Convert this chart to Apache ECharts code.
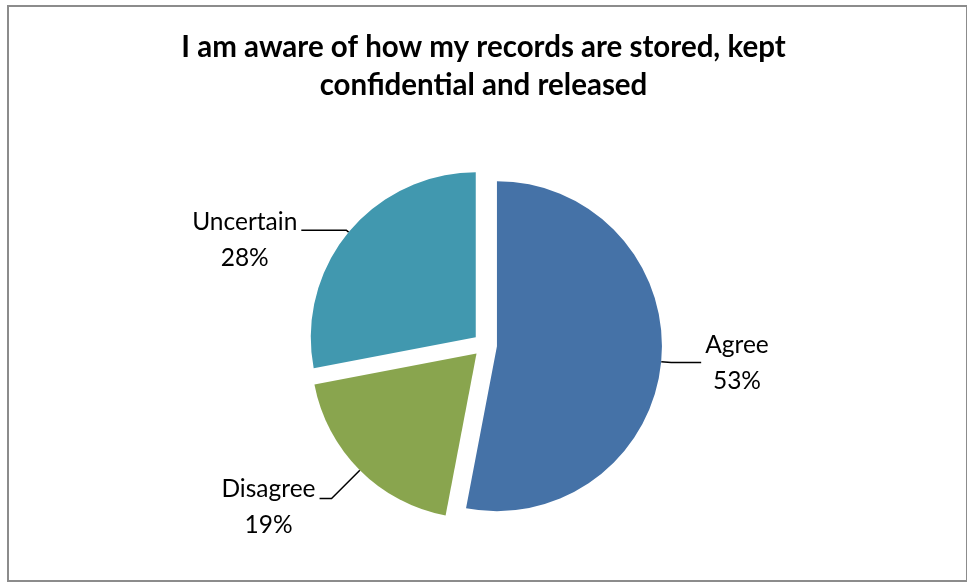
<!DOCTYPE html>
<html>
<head>
<meta charset="utf-8">
<script src="https://cdn.jsdelivr.net/npm/echarts@6/dist/echarts.min.js"></script>
<style>
html,body{margin:0;padding:0;background:#fff;}
#frame{position:absolute;left:7px;top:5px;width:957px;height:573px;border:2px solid #8c8c8c;box-sizing:content-box;}
#chart{position:absolute;left:0;top:0;width:967px;height:582px;}
</style>
</head>
<body>
<div id="frame"></div>
<div id="chart"></div>
<script>
const titleText = "I am aware of how my records are stored, kept\nconfidential and released";
const categories = ["Agree", "Disagree", "Uncertain"];
const values = [53, 19, 28];
const colors = ["#4572A7", "#89A54E", "#4198AF"];
const lineLengths = [[10, 30], [40, 12], [3, 45]];
const labelShift = [0, 18, 20];

const chart = echarts.init(document.getElementById('chart'), null, {renderer: 'canvas'});
chart.setOption({
  animation: false,
  title: {
    text: titleText,
    left: 'center',
    top: 23,
    textStyle: {fontFamily: 'Lato', fontWeight: 'bold', fontSize: 29.5, lineHeight: 38, color: '#000'}
  },
  series: [{
    type: 'pie',
    center: [485, 345],
    radius: [0, 165],
    startAngle: 90,
    clockwise: true,
    selectedMode: 'multiple',
    selectedOffset: 12,
    emphasis: {disabled: true},
    label: {
      show: true,
      position: 'outside',
      distanceToLabelLine: 4,
      formatter: p => '{t|' + p.name + '}\n{t|' + Math.round(p.percent) + '%}',
      rich: {t: {fontFamily: 'Lato', fontSize: 24.5, lineHeight: 36, color: '#000', align: 'center'}}
    },
    labelLine: {show: true, lineStyle: {color: '#000', width: 1.5}},
    data: categories.map((c, i) => ({
      name: c,
      value: values[i],
      selected: true,
      itemStyle: {color: colors[i]},
      label: {padding: [labelShift[i], 0, 0, 0]},
      labelLine: {length: lineLengths[i][0], length2: lineLengths[i][1]}
    }))
  }]
});
</script>
</body>
</html>
